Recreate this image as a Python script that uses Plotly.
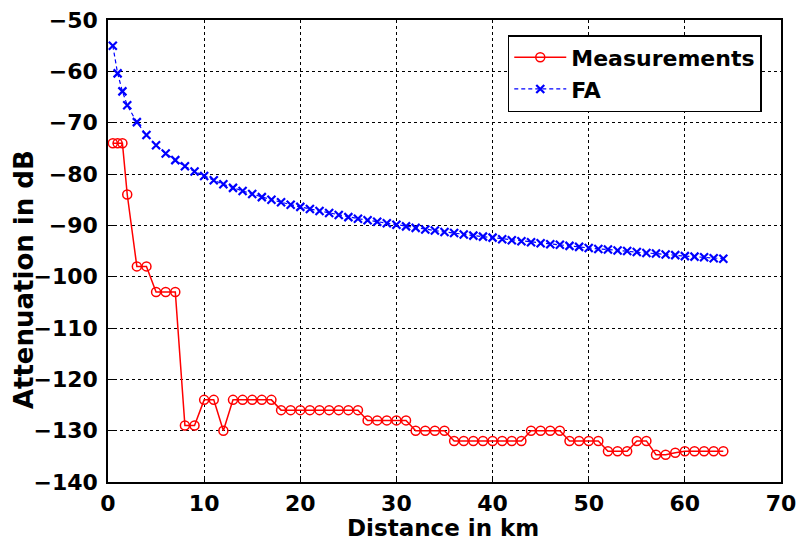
import plotly.graph_objects as go

# Distance (km) for both series
distance_km = [0.5, 1, 1.5, 2, 3, 4, 5, 6, 7, 8, 9, 10, 11, 12, 13, 14, 15, 16, 17,
               18, 19, 20, 21, 22, 23, 24, 25, 26, 27, 28, 29, 30, 31, 32, 33, 34, 35,
               36, 37, 38, 39, 40, 41, 42, 43, 44, 45, 46, 47, 48, 49, 50, 51, 52, 53,
               54, 55, 56, 57, 58, 59, 60, 61, 62, 63, 64]

measurements_db = [-74, -74, -74, -84, -98, -98, -103, -103, -103, -129, -129, -124, -124, -130,
                   -124, -124, -124, -124, -124,
                   -126, -126, -126, -126, -126, -126, -126, -126, -126,
                   -128, -128, -128, -128, -128,
                   -130, -130, -130, -130,
                   -132, -132, -132, -132, -132, -132, -132, -132,
                   -130, -130, -130, -130,
                   -132, -132, -132, -132,
                   -134, -134, -134,
                   -132, -132,
                   -134.7, -134.7, -134.3,
                   -134, -134, -134, -134, -134]

fa_db = [-55.0, -60.4, -63.9, -66.6, -69.9, -72.4, -74.4, -76.0, -77.3, -78.5, -79.5, -80.4,
         -81.2, -82.0, -82.7, -83.3, -83.9, -84.5, -85.0, -85.5, -86.0, -86.4, -86.8, -87.2,
         -87.6, -88.0, -88.4, -88.7, -89.0, -89.3, -89.6, -89.9, -90.2, -90.5, -90.8, -91.0,
         -91.3, -91.5, -91.8, -92.0, -92.2, -92.4, -92.7, -92.9, -93.1, -93.3, -93.5, -93.7,
         -93.8, -94.0, -94.2, -94.4, -94.6, -94.7, -94.9, -95.0, -95.2, -95.4, -95.5, -95.7,
         -95.8, -96.0, -96.1, -96.2, -96.4, -96.5]

x_ticks = [0, 10, 20, 30, 40, 50, 60, 70]
y_ticks = [-50, -60, -70, -80, -90, -100, -110, -120, -130, -140]

x_title = "Distance in km"
y_title = "Attenuation in dB"

FONT = "DejaVu Sans, Arial, sans-serif"

fig = go.Figure()
fig.add_trace(go.Scatter(
    x=distance_km, y=measurements_db, name="Measurements", mode="lines+markers",
    line=dict(color="#ff0000", width=1.5),
    marker=dict(symbol="circle-open", size=9, color="#ff0000", line=dict(width=1.5)),
))
fig.add_trace(go.Scatter(
    x=distance_km, y=fa_db, name="FA", mode="lines+markers",
    line=dict(color="#0000ff", width=1.2, dash="4px,3px"),
    marker=dict(symbol="x-thin-open", size=8, color="#0000ff", line=dict(width=2.2, color="#0000ff")),
))

axis_common = dict(
    showline=True, linecolor="black", linewidth=1.5, mirror=True,
    ticks="inside", ticklen=6, tickcolor="black", tickwidth=1,
    showgrid=True, gridcolor="black", gridwidth=1, griddash="3px,3px",
    zeroline=False, automargin=False,
    tickfont=dict(family=FONT, size=22, color="black", weight="bold"),
)

fig.update_layout(
    width=798, height=546,
    margin=dict(l=108, r=17, t=20, b=64),
    paper_bgcolor="white", plot_bgcolor="white",
    font=dict(family=FONT, color="black"),
    xaxis=dict(range=[0, 70], tickvals=x_ticks, ticklabelstandoff=1, **axis_common),
    yaxis=dict(range=[-140, -50], tickvals=y_ticks, ticklabelstandoff=4, **axis_common),
    legend=dict(x=0.594, y=0.9675, xanchor="left", yanchor="top",
                bgcolor="white", bordercolor="black", borderwidth=1.5,
                font=dict(family=FONT, size=22, color="black", weight="bold"),
                tracegroupgap=0, itemwidth=52),
    showlegend=True,
    annotations=[
        dict(text="<b>" + x_title + "</b>", xref="paper", yref="paper",
             x=0.4978, y=-0.1, xanchor="center", yanchor="middle", showarrow=False,
             font=dict(family=FONT, size=23, color="black")),
        dict(text="<b>" + y_title + "</b>", xref="paper", yref="paper",
             x=-0.1248, y=0.437, xanchor="center", yanchor="middle", showarrow=False,
             textangle=-90, font=dict(family=FONT, size=26, color="black")),
    ],
)

fig.write_html("out.html", config={"displayModeBar": False},
               post_script="document.body.style.margin='0';")
